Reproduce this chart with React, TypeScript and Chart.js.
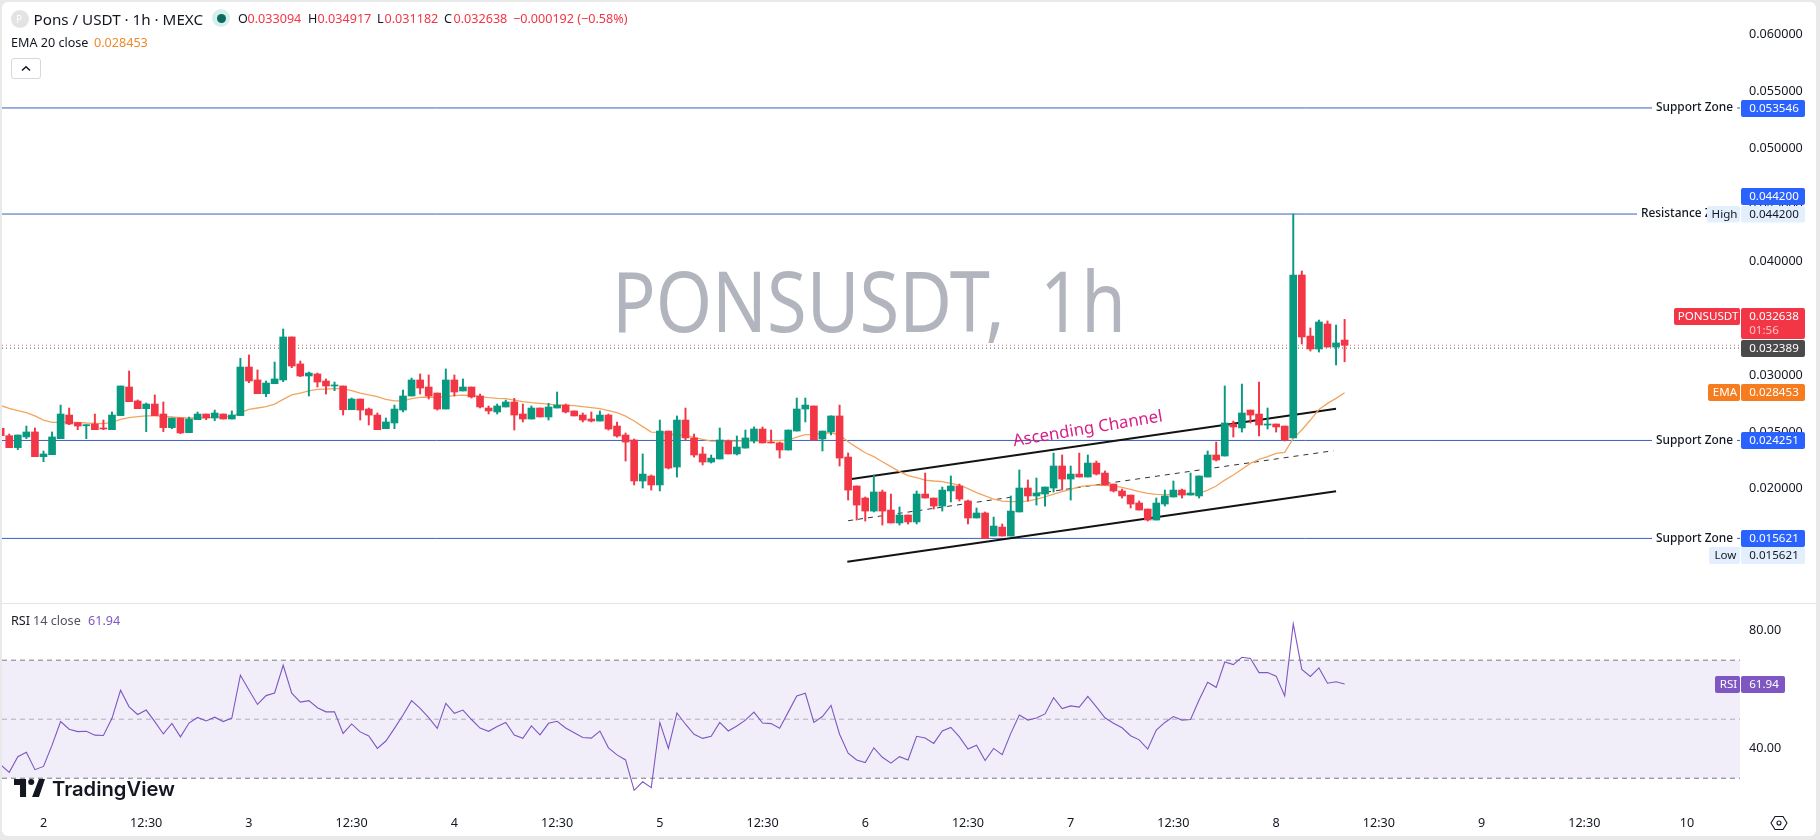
import React, { useEffect, useRef } from "react";
import { Chart, registerables } from "chart.js";

Chart.register(...registerables);

const FONT = '"Noto Sans", sans-serif';
const firstHour = -5;

const opens = [.02532,.02467,.02362,.02456,.02500,.02282,.02300,.02441,.02649,.02582,.02555,.02570,.02535,.02520,.02644,.02896,.02773,.02705,.02746,.02658,.02538,.02623,.02494,.02608,.02658,.02623,.02658,.02614,.02644,.03072,.02958,.02837,.02925,.02958,.03337,.03099,.02993,.03011,.02949,.02905,.02905,.02696,.02790,.02702,.02649,.02529,.02579,.02693,.02817,.02958,.02896,.02843,.02702,
.02958,.02861,.02896,.02817,.02711,.02676,.02720,.02764,.02658,.02614,.02711,.02632,.02711,.02737,.02685,.02649,.02614,.02596,.02649,.02552,.02473,.02429,.02068,.02112,.02033,.02508,.02191,.02605,.02447,.02306,.02235,.02262,.02420,.02306,.02358,.02420,.02526,.02411,.02403,.02341,.02508,.02702,.02729,.02438,.02500,.02641,.02279,
.02024,.01918,.01803,.01971,.01812,.01698,.01768,.01707,.01953,.01918,.01847,.01980,.02024,.01892,.01742,.01786,.01583,.01662,.01583,.01795,.02006,.01936,.01953,.02006,.02200,.02085,.02129,.02103,.02226,.02138,.02041,.01980,.01944,.01874,.01821,.01724,.01865,.01927,.01988,.01944,.01936,.02103,.02297,.02288,.02570,.02535,.02693,.02658,.02561,.02570,.02552,.02447,.03883,.03345,.03231,.03451,.03248,.033094];
const highs = [.02532,.02482,.02473,.02552,.02535,.02332,.02500,.02737,.02711,.02582,.02564,.02658,.02605,.02676,.02905,.03037,.02782,.02755,.02826,.02764,.02623,.02623,.02632,.02676,.02658,.02693,.02658,.02685,.03149,.03178,.03046,.02949,.03116,.03407,.03337,.03125,.03028,.03019,.02967,.02940,.02905,.02799,.02790,.02711,.02667,.02623,.02737,.02870,.02975,.03011,.03002,.02843,.03055,
.03002,.02967,.02896,.02834,.02729,.02746,.02781,.02796,.02746,.02729,.02711,.02752,.02852,.02746,.02685,.02667,.02676,.02685,.02658,.02588,.02491,.02438,.02306,.02121,.02605,.02508,.02641,.02711,.02482,.02367,.02297,.02535,.02429,.02464,.02517,.02544,.02544,.02517,.02411,.02517,.02799,.02799,.02729,.02508,.02641,.02737,.02315,
.02024,.01927,.02121,.01988,.01953,.01839,.01768,.01980,.02138,.01918,.02015,.02112,.02041,.01900,.01830,.01795,.01750,.01689,.01936,.02165,.02077,.02094,.02015,.02314,.02297,.02200,.02314,.02297,.02244,.02156,.02041,.01997,.01944,.01892,.01821,.01918,.01988,.02068,.01997,.02138,.02112,.02332,.02411,.02905,.02596,.02922,.02693,.02940,.02711,.02570,.02552,.04420,.03918,.03416,.03486,.03478,.03442,.034917];
const lows = [.02467,.02362,.02344,.02441,.02282,.02238,.02300,.02441,.02564,.02520,.02441,.02520,.02520,.02520,.02644,.02767,.02705,.02503,.02644,.02503,.02529,.02485,.02494,.02608,.02608,.02599,.02614,.02614,.02644,.02934,.02837,.02811,.02925,.02943,.03066,.02987,.02817,.02896,.02834,.02864,.02649,.02696,.02605,.02561,.02520,.02529,.02529,.02676,.02817,.02834,.02790,.02693,.02702,
.02817,.02861,.02799,.02711,.02658,.02658,.02720,.02517,.02588,.02614,.02632,.02605,.02711,.02667,.02641,.02588,.02588,.02596,.02517,.02455,.02244,.02033,.02006,.01988,.01980,.02174,.02103,.02429,.02279,.02209,.02226,.02262,.02306,.02297,.02358,.02403,.02403,.02403,.02270,.02341,.02508,.02588,.02429,.02332,.02473,.02200,.01900,
.01724,.01715,.01795,.01680,.01698,.01680,.01689,.01689,.01918,.01821,.01803,.01883,.01892,.01689,.01742,.01562,.01583,.01583,.01583,.01795,.01892,.01856,.01847,.01971,.01988,.01900,.02103,.02103,.02121,.02033,.01971,.01918,.01830,.01812,.01715,.01724,.01847,.01927,.01918,.01944,.01918,.02103,.02244,.02288,.02455,.02499,.02579,.02464,.02526,.02499,.02420,.02447,.03275,.03213,.03204,.03248,.03090,.031182];
const closes = [.02467,.02362,.02473,.02500,.02282,.02306,.02456,.02658,.02570,.02552,.02564,.02520,.02526,.02649,.02905,.02767,.02705,.02746,.02644,.02538,.02623,.02491,.02614,.02658,.02623,.02667,.02614,.02649,.03072,.02949,.02837,.02931,.02967,.03337,.03081,.02993,.03019,.02940,.02905,.02914,.02696,.02790,.02693,.02649,.02520,.02588,.02702,.02817,.02958,.02887,.02817,.02702,.02958,
.02852,.02896,.02808,.02720,.02685,.02729,.02764,.02649,.02614,.02711,.02632,.02720,.02737,.02676,.02641,.02605,.02596,.02649,.02526,.02464,.02411,.02068,.02129,.02033,.02508,.02182,.02605,.02447,.02297,.02235,.02270,.02429,.02306,.02367,.02447,.02526,.02403,.02403,.02341,.02517,.02702,.02737,.02429,.02508,.02641,.02270,.01988,
.01856,.01803,.01971,.01803,.01698,.01768,.01707,.01953,.01918,.01847,.01988,.02024,.01909,.01742,.01786,.01562,.01671,.01583,.01803,.02006,.01936,.01962,.02015,.02200,.02085,.02129,.02103,.02226,.02129,.02033,.01980,.01936,.01865,.01812,.01724,.01874,.01936,.01988,.01944,.01962,.02112,.02297,.02253,.02579,.02544,.02667,.02649,.02561,.02570,.02544,.02429,.03883,.03337,.03231,.03469,.03248,.03284,.032638];
const ema20 = [.02732,.02708,.02688,.02670,.02641,.02605,.02585,.02585,.02585,.02585,.02579,.02576,.02573,.02585,.02611,.02626,.02635,.02641,.02641,.02638,.02632,.02626,.02623,.02623,.02626,.02629,.02632,.02635,.02670,.02699,.02711,.02723,.02746,.02787,.02826,.02843,.02861,.02876,.02878,.02881,.02881,.02864,.02843,.02826,.02811,.02787,.02773,.02773,.02793,.02805,.02808,.02802,.02811,
.02820,.02825,.02823,.02811,.02802,.02796,.02793,.02781,.02767,.02758,.02752,.02746,.02737,.02737,.02732,.02723,.02714,.02705,.02688,.02670,.02640,.02596,.02547,.02499,.02497,.02482,.02473,.02467,.02452,.02435,.02420,.02420,.02420,.02420,.02423,.02423,.02423,.02423,.02423,.02429,.02455,.02476,.02476,.02488,.02493,.02473,.02414,
.02364,.02317,.02282,.02238,.02194,.02150,.02115,.02097,.02076,.02068,.02062,.02047,.02032,.02000,.01965,.01936,.01909,.01891,.01886,.01886,.01891,.01909,.01929,.01953,.01974,.01994,.02018,.02027,.02032,.02029,.02024,.02012,.01994,.01974,.01959,.01950,.01947,.01950,.01953,.01953,.01959,.01988,.02024,.02076,.02121,.02171,.02223,.02259,.02282,.02312,.02320,.02444,.02517,.02605,.02699,.02752,.02796,.028453];
const rsi14 = [34.5,32.0,37.3,38.8,32.9,34.0,41.2,49.2,46.6,45.8,45.9,44.6,44.5,50.3,59.8,54.2,51.6,53.1,49.2,45.0,48.6,44.0,48.7,50.6,49.4,50.7,49.2,50.4,64.9,59.9,55.0,58.0,58.9,68.3,58.8,55.8,56.3,53.9,52.5,52.5,45.2,48.4,45.7,44.3,40.1,42.6,46.9,51.4,56.3,53.7,50.5,46.9,55.4,
52.0,53.1,49.9,47.0,45.9,47.5,48.9,44.6,43.5,47.7,44.7,48.6,49.3,47.0,45.4,43.8,43.6,46.0,40.3,37.9,36.2,25.9,28.8,26.8,48.9,40.1,52.1,48.3,44.9,43.5,44.2,48.9,46.0,47.7,49.7,52.4,48.7,48.5,46.9,52.4,57.9,58.8,48.9,50.9,54.7,44.9,38.5,
36.2,35.3,40.3,37.1,35.1,37.3,36.2,44.2,43.6,41.8,46.0,47.2,44.0,39.9,41.2,36.0,40.1,38.0,45.2,51.4,49.7,50.4,51.8,57.3,53.6,54.5,54.1,57.7,54.2,50.5,48.6,47.1,44.4,43.0,39.9,46.3,48.9,50.9,49.7,49.9,56.5,62.5,60.8,69.4,68.5,71.0,70.6,65.8,65.8,64.6,57.9,82.3,66.9,64.5,67.4,62.2,62.7,61.94];

const priceTicks = [.06,.055,.05,.045,.04,.035,.03,.025,.02,.015];
const rsiTicks = [80,60,40];
const timeTicks = [0,12,24,36,48,60,72,84,96,108,120,132,144,156,168,180,192];
const timeLabels = ["2","12:30","3","12:30","4","12:30","5","12:30","6","12:30","7","12:30","8","12:30","9","12:30","10"];

const zoneNames = ["Support Zone","Resistance Zone","Support Zone","Support Zone"];
const zoneValues = [.053546,.0442,.024251,.015621];
const lastPrice = .032638;
const prevClose = .032389;
const upperChannel = [{x:94.4,y:.02085},{x:151,y:.02705}];
const midChannel = [{x:94,y:.01718},{x:150.7,y:.02335}];
const lowerChannel = [{x:93.9,y:.01357},{x:151,y:.01977}];
const rsiLevels = [70,50,30];

const X_MIN = -4.848, X_MAX = 198.19;
const GREEN = "#089981", RED = "#f23645", BLUE = "#2962ff", PALE = "#e3effd", ORANGE = "#f57c1f", PURPLE = "#7e57c2", INK = "#131722";
const mono = `11.6px ${FONT}`;

const colors = opens.map((o, i) => (closes[i] >= o ? GREEN : RED));
const xs = opens.map((_, i) => firstHour + i);
const span = (v: number) => [{ x: X_MIN, y: v }, { x: X_MAX, y: v }];

function tag(ctx: any, x: number, y: number, w: number, h: number, bg: string, text: string, fg: string) {
  ctx.fillStyle = bg;
  ctx.beginPath();
  ctx.roundRect(x, y, w, h, 2);
  ctx.fill();
  ctx.fillStyle = fg;
  ctx.font = mono;
  ctx.textAlign = "center";
  ctx.textBaseline = "middle";
  ctx.fillText(text, x + w / 2 + 1, y + h / 2 + 0.5);
}

const noPadding = (s: any) => { s.paddingTop = 0; s.paddingBottom = 0; s.paddingLeft = 0; s.paddingRight = 0; };

const xOptions = (show: boolean) => ({
  type: "linear" as const,
  min: X_MIN,
  max: X_MAX,
  offset: false,
  display: show,
  border: { display: false },
  grid: { display: false, offset: false, drawTicks: false },
  afterBuildTicks: (s: any) => { s.ticks = timeTicks.map((value) => ({ value })); },
  afterFit: (s: any) => { s.height = show ? 30 : 0; noPadding(s); },
  ticks: {
    autoSkip: false, maxRotation: 0, padding: 10, color: INK, font: { family: FONT, size: 12.6 },
    callback: (v: any) => timeLabels[timeTicks.indexOf(v)] ?? "",
  },
});

const yOptions = (min: number, max: number, list: number[], digits: number) => ({
  position: "right" as const,
  min, max,
  border: { display: false },
  grid: { display: false, drawTicks: false },
  afterBuildTicks: (s: any) => { s.ticks = list.map((value) => ({ value })); },
  afterFit: (s: any) => { s.width = 78; noPadding(s); },
  ticks: { padding: 9, color: INK, font: { family: FONT, size: 12.6 }, callback: (v: any) => Number(v).toFixed(digits) },
});

const overlayPlugin = {
  id: "priceOverlay",
  afterDatasetsDraw(chart: any) {
    const { ctx, scales: { x, y } } = chart;
    ctx.save();
    ctx.save();
    ctx.translate(x.getPixelForValue(122), y.getPixelForValue(.02526));
    ctx.rotate(-9.5 * Math.PI / 180);
    ctx.fillStyle = "#d81e86";
    ctx.font = `16.8px ${FONT}`;
    ctx.textAlign = "center";
    ctx.textBaseline = "middle";
    ctx.fillText("Ascending Channel", 0, 0);
    ctx.restore();
    const zoneX = [1656, 1641, 1656, 1656];
    zoneNames.forEach((name, k) => {
      const py = y.getPixelForValue(zoneValues[k]);
      ctx.font = `500 11.9px ${FONT}`;
      ctx.textAlign = "left";
      ctx.textBaseline = "middle";
      const w = ctx.measureText(name).width;
      ctx.fillStyle = "#ffffff";
      ctx.fillRect(zoneX[k] - 4, py - 2, w + 8, 4);
      ctx.fillStyle = INK;
      ctx.fillText(name, zoneX[k], py);
    });
    ctx.restore();
  },
  afterDraw(chart: any) {
    const { ctx } = chart;
    ctx.save();
    tag(ctx, 1741, 100, 64, 17, BLUE, "0.053546", "#fff");
    tag(ctx, 1741, 188, 64, 17, BLUE, "0.044200", "#fff");
    tag(ctx, 1707, 206, 33, 16.5, PALE, "High", INK);
    tag(ctx, 1741, 206, 64, 16.5, PALE, "0.044200", INK);
    tag(ctx, 1674, 308, 66, 17, RED, "PONSUSDT", "#fff");
    ctx.fillStyle = RED;
    ctx.beginPath(); ctx.roundRect(1741, 308, 64, 31, 2); ctx.fill();
    ctx.fillStyle = "#fff"; ctx.font = mono; ctx.textAlign = "center"; ctx.textBaseline = "middle";
    ctx.fillText("0.032638", 1774, 317);
    ctx.fillStyle = "rgba(255,255,255,0.7)";
    ctx.fillText("01:56", 1764, 331);
    tag(ctx, 1741, 340, 64, 17, "#4a4a4a", "0.032389", "#fff");
    tag(ctx, 1708, 384, 32, 17, ORANGE, "EMA", "#fff");
    tag(ctx, 1741, 384, 64, 17, ORANGE, "0.028453", "#fff");
    tag(ctx, 1741, 432, 64, 17, BLUE, "0.024251", "#fff");
    tag(ctx, 1741, 530, 64, 17, BLUE, "0.015621", "#fff");
    tag(ctx, 1709, 547, 31, 17, PALE, "Low", INK);
    tag(ctx, 1741, 547, 64, 17, PALE, "0.015621", INK);
    ctx.restore();
  },
};

const rsiPlugin = {
  id: "rsiOverlay",
  afterDraw(chart: any) {
    const { ctx } = chart;
    ctx.save();
    tag(ctx, 1715, 72, 25, 17, PURPLE, "RSI", "#fff");
    tag(ctx, 1741, 72, 44, 17, PURPLE, "61.94", "#fff");
    ctx.restore();
  },
};

const line = (data: any[], color: string, width: number, order: number, dash: number[] = []) => ({
  type: "line" as const, data, borderColor: color, borderWidth: width, borderDash: dash,
  pointRadius: 0, tension: 0, order, fill: false,
});

export default function App() {
  const priceRef = useRef<HTMLCanvasElement>(null);
  const rsiRef = useRef<HTMLCanvasElement>(null);

  useEffect(() => {
    document.body.style.margin = "0";
    document.body.style.background = "#e9e9ea";
    const base = {
      animation: false as const, responsive: false, events: [] as any[],
      plugins: { legend: { display: false }, tooltip: { enabled: false } },
    };
    const price = new Chart(priceRef.current as any, {
      type: "bar",
      data: {
        datasets: [
          { type: "bar", grouped: false, order: 0, barThickness: 7, backgroundColor: colors,
            data: xs.map((x, i) => ({ x, y: [opens[i], closes[i]] })) } as any,
          { type: "bar", grouped: false, order: 1, barThickness: 1.3, backgroundColor: colors,
            data: xs.map((x, i) => ({ x, y: [lows[i], highs[i]] })) } as any,
          line(xs.map((x, i) => ({ x, y: ema20[i] })), "#f2a55f", 1.3, 2),
          line(upperChannel, "#131313", 2, 3),
          line(lowerChannel, "#131313", 2, 3),
          line(midChannel, "#333", 1, 3, [5, 5]),
          ...zoneValues.map((v) => line(span(v), "#3a5fc0", 1, 4)),
          line(span(lastPrice), "rgba(242,54,69,0.8)", 1, 5, [1, 3]),
          line(span(prevClose), "#555", 1, 5, [1, 3]),
        ] as any,
      },
      options: {
        ...base,
        layout: { autoPadding: false, padding: { left: 2, right: 2, top: 2, bottom: 0 } },
        scales: { x: xOptions(false), y: yOptions(.00993, .062881, priceTicks, 6) } as any,
      },
      plugins: [overlayPlugin],
    });
    const rsi = new Chart(rsiRef.current as any, {
      type: "line",
      data: {
        datasets: [
          line(xs.map((x, i) => ({ x, y: rsi14[i] })), "#7e57c2", 1.1, 0),
          { ...line(span(rsiLevels[0]), "#787b86", 1, 2, [5, 4]), fill: { target: { value: rsiLevels[2] }, above: "rgba(126,87,194,0.1)" } },
          line(span(rsiLevels[1]), "#b4b6bd", 1, 2, [5, 4]),
          line(span(rsiLevels[2]), "#787b86", 1, 2, [5, 4]),
        ] as any,
      },
      options: {
        ...base,
        layout: { autoPadding: false, padding: { left: 2, right: 2, top: 1, bottom: 0 } },
        scales: { x: xOptions(true), y: yOptions(20.58, 88.71, rsiTicks, 2) } as any,
      },
      plugins: [rsiPlugin],
    });
    return () => { price.destroy(); rsi.destroy(); };
  }, []);

  const abs = (left: number, top: number, extra: React.CSSProperties = {}): React.CSSProperties => ({
    position: "absolute", left, top, fontFamily: FONT, fontSize: 12.6, lineHeight: "18px", color: INK, whiteSpace: "nowrap", ...extra,
  });
  const priced = (left: number, letter: string, value: string, valueLeft: number) => (
    <>
      <span style={abs(left, 10)}>{letter}</span>
      <span style={abs(valueLeft, 10, { color: RED })}>{value}</span>
    </>
  );

  return (
    <div style={{ position: "absolute", left: 0, top: 0, width: 1820, height: 840, overflow: "hidden", background: "#e9e9ea" }}>
      <div style={{ position: "absolute", left: 2, top: 2, width: 1814, height: 834, background: "#fff", borderRadius: 6 }} />
      <div style={{ position: "absolute", left: 2, top: 603, width: 1814, height: 1, background: "#e4e4e6" }} />
      <div style={abs(612, 245, { fontSize: 84, lineHeight: "110px", color: "#b2b5be", wordSpacing: 19, transform: "scaleX(0.86)", transformOrigin: "left center" })}>PONSUSDT, 1h</div>
      <canvas ref={priceRef} width={1820} height={603} style={{ position: "absolute", left: 0, top: 0, display: "block" }} />
      <canvas ref={rsiRef} width={1820} height={232} style={{ position: "absolute", left: 0, top: 604, display: "block" }} />

      <div style={{ position: "absolute", left: 11, top: 10, width: 18, height: 18, borderRadius: 9, background: "#e3e3e5" }} />
      <div style={abs(16, 10, { color: "#fff", fontSize: 10 })}>P</div>
      <div style={abs(33.5, 10, { fontSize: 15.2 })}>Pons / USDT · 1h · MEXC</div>
      <div style={{ position: "absolute", left: 212, top: 9, width: 18, height: 18, borderRadius: 9, background: "#d5efec" }} />
      <div style={{ position: "absolute", left: 216.5, top: 13.5, width: 9, height: 9, borderRadius: 5, background: "#0b6b5d" }} />
      {priced(238, "O", "0.033094", 247.5)}
      {priced(308, "H", "0.034917", 317.5)}
      {priced(377, "L", "0.031182", 384.5)}
      {priced(444, "C", "0.032638", 453.5)}
      <span style={abs(513, 10, { color: RED })}>−0.000192 (−0.58%)</span>
      <div style={abs(11, 33.5)}>EMA 20 close</div>
      <div style={abs(94, 33.5, { color: "#ef8a2c" })}>0.028453</div>
      <div style={{ position: "absolute", left: 11, top: 58, width: 28, height: 19, border: "1px solid #d6d8de", borderRadius: 3, background: "#fff" }}>
        <svg width="28" height="19" viewBox="0 0 28 19" style={{ display: "block" }}>
          <path d="M10 11.5 L14 7.8 L18 11.5" fill="none" stroke="#131722" strokeWidth="1.5" />
        </svg>
      </div>

      <div style={abs(11, 612)}>RSI</div>
      <div style={abs(33, 612, { color: "#50535e" })}>14 close</div>
      <div style={abs(88, 612, { color: PURPLE })}>61.94</div>

      <svg width="31" height="20" viewBox="0 0 36 23" style={{ position: "absolute", left: 14, top: 778 }}>
        <path d="M14 0H0v7h7v14h7V0zM29 21h-8l8-21h7l-7 21zM20 7a3.5 3.5 0 1 0 0-7 3.5 3.5 0 0 0 0 7z" fill="#131722" transform="translate(0 1)" />
      </svg>
      <div style={abs(52, 776, { fontFamily: `Inter, ${FONT}`, fontWeight: 600, fontSize: 20.2, lineHeight: "26px", color: "#131722" })}>TradingView</div>

      <svg width="18" height="18" viewBox="0 0 18 18" style={{ position: "absolute", left: 1770, top: 814 }}>
        <path d="M5 2.5h8L17 9l-4 6.5H5L1 9z" fill="none" stroke="#131722" strokeWidth="1.1" />
        <circle cx="9" cy="9" r="2" fill="none" stroke="#131722" strokeWidth="1.1" />
      </svg>
    </div>
  );
}
